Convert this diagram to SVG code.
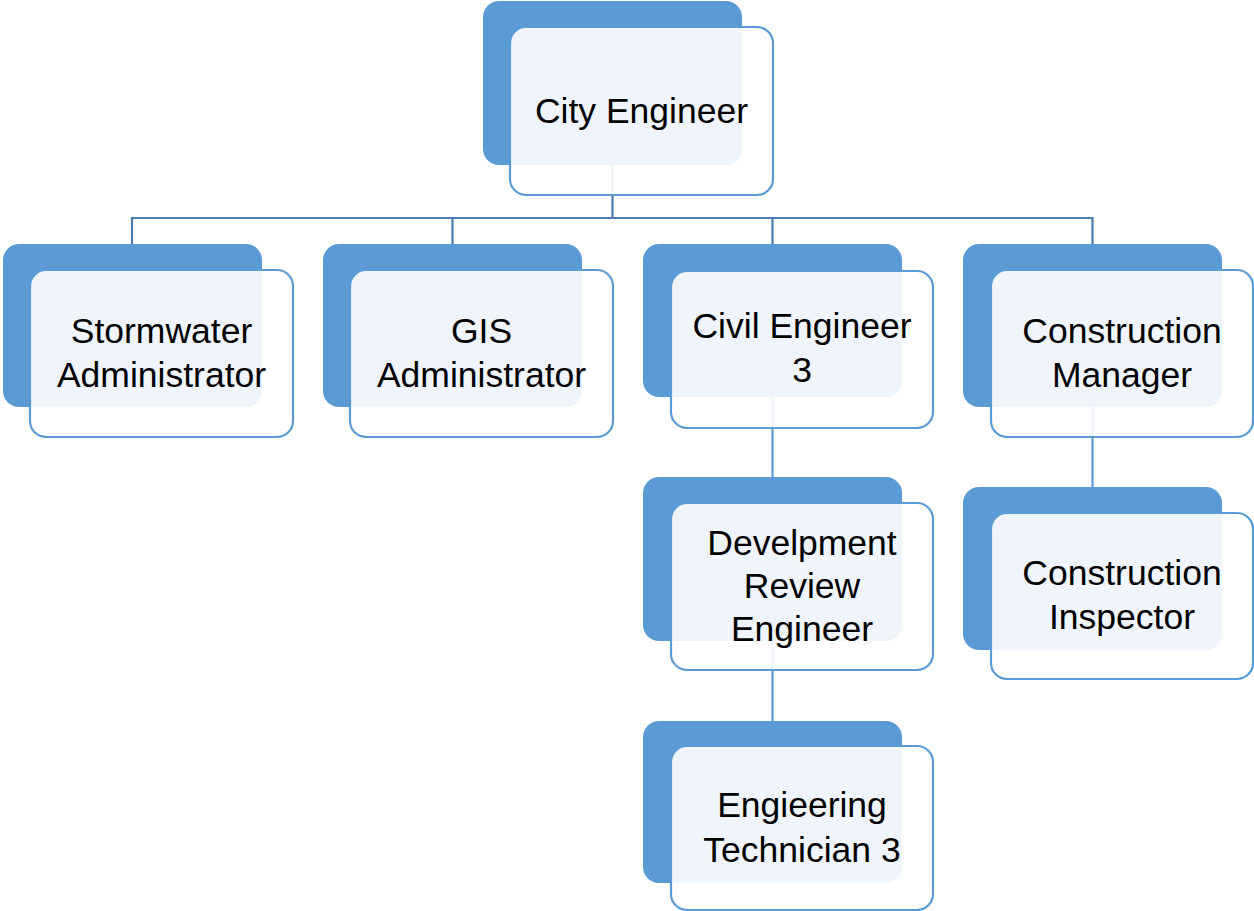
<svg xmlns="http://www.w3.org/2000/svg" width="1254" height="911" viewBox="0 0 1254 911">
<style>
.back{fill:#5B9BD5}
.front{fill:#FFFFFF;fill-opacity:0.9;stroke:#5B9BD5;stroke-width:2.2}
.lbl{font-family:"Liberation Sans",Arial,sans-serif;font-size:35.5px;fill:#000;text-anchor:middle}
.c1{stroke:#4A7DB0;stroke-width:2.2;fill:none}
.c2{stroke:#5B9BD5;stroke-width:2.2;fill:none}
</style>
<rect width="1254" height="911" fill="#FFFFFF"/>
<g id="connectors">
<path class="c1" d="M612.5 83 V218 M132 218 H1092.5 M132 217 V244 M452.5 217 V244 M772.5 217 V244 M1092.5 217 V244"/>
<path class="c2" d="M772.5 320 V477 M772.5 560 V721 M1092.5 325 V487"/>
</g>
<g id="city-engineer">
<rect class="back" x="483" y="1" width="259" height="164" rx="16"/>
<rect class="front" x="510" y="27" width="263" height="168" rx="16"/>
<text class="lbl" x="641.5" y="123">City Engineer</text>
</g>
<g id="stormwater-administrator">
<rect class="back" x="3" y="244" width="259" height="163" rx="16"/>
<rect class="front" x="30" y="270" width="263" height="167" rx="16"/>
<text class="lbl" x="161.5" y="343">Stormwater</text>
<text class="lbl" x="161.5" y="387">Administrator</text>
</g>
<g id="gis-administrator">
<rect class="back" x="323" y="244" width="259" height="163" rx="16"/>
<rect class="front" x="350" y="270" width="263" height="167" rx="16"/>
<text class="lbl" x="481.5" y="343">GIS</text>
<text class="lbl" x="481.5" y="387">Administrator</text>
</g>
<g id="civil-engineer-3">
<rect class="back" x="643" y="244" width="259" height="153" rx="16"/>
<rect class="front" x="671" y="271" width="262" height="157" rx="16"/>
<text class="lbl" x="802" y="338">Civil Engineer</text>
<text class="lbl" x="802" y="382">3</text>
</g>
<g id="construction-manager">
<rect class="back" x="963" y="244" width="259" height="163" rx="16"/>
<rect class="front" x="991" y="270" width="262" height="167" rx="16"/>
<text class="lbl" x="1122" y="343">Construction</text>
<text class="lbl" x="1122" y="387">Manager</text>
</g>
<g id="development-review-engineer">
<rect class="back" x="643" y="477" width="259" height="164" rx="16"/>
<rect class="front" x="671" y="503" width="262" height="167" rx="16"/>
<text class="lbl" x="802" y="555">Develpment</text>
<text class="lbl" x="802" y="598">Review</text>
<text class="lbl" x="802" y="641">Engineer</text>
</g>
<g id="construction-inspector">
<rect class="back" x="963" y="487" width="259" height="163" rx="16"/>
<rect class="front" x="991" y="513" width="262" height="166" rx="16"/>
<text class="lbl" x="1122" y="585">Construction</text>
<text class="lbl" x="1122" y="629">Inspector</text>
</g>
<g id="engineering-technician-3">
<rect class="back" x="643" y="721" width="259" height="162" rx="16"/>
<rect class="front" x="671" y="746" width="262" height="164" rx="16"/>
<text class="lbl" x="802" y="817">Engieering</text>
<text class="lbl" x="802" y="862">Technician 3</text>
</g>
</svg>
